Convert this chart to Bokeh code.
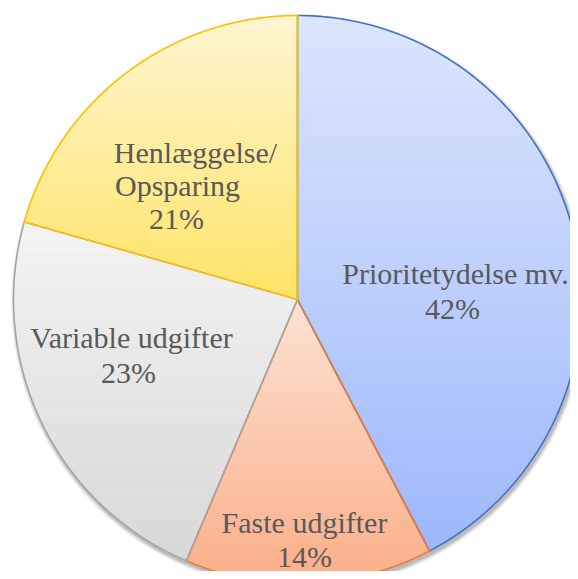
import numpy as np
from bokeh.plotting import figure
from bokeh.models import Range1d
from bokeh.core.properties import value
from bokeh.embed import file_html
from bokeh.resources import INLINE

# ---- data ----
categories = ["Prioritetydelse mv.", "Faste udgifter", "Variable udgifter", "Henlæggelse/Opsparing"]
shares = [42.3, 14.1, 23.0, 20.6]
pct_labels = ["42%", "14%", "23%", "21%"]

# ---- styles ----
top_colors = ["#dde6fd", "#fde2d4", "#f4f4f4", "#fff6d2"]
bottom_colors = ["#9db8fb", "#fbae88", "#d8d8d8", "#ffe466"]
edge_colors = ["#4472c4", "#ed7d31", "#a5a5a5", "#ffc000"]
text_color = "#595959"
font = "Liberation Serif"
font_size = "30px"

# ---- layout (pixel coordinates of the picture, y downwards) ----
CX, CY, R = 297.0, 299.0, 284.0
label_lines = [
    [(categories[0], 455, 273), (pct_labels[0], 452, 308)],
    [(categories[1], 304, 522), (pct_labels[1], 304, 556)],
    [(categories[2], 131, 337), (pct_labels[2], 128, 372)],
    [("Henlæggelse/", 195, 152), ("Opsparing", 177, 185), (pct_labels[3], 176, 218)],
]

W, H = 570, 571
p = figure(width=W, height=H, output_backend="svg", toolbar_location=None,
           x_range=Range1d(0, W), y_range=Range1d(H, 0),
           x_axis_type=None, y_axis_type=None, min_border=0,
           background_fill_color="white", border_fill_color="white")
p.outline_line_color = None
p.grid.visible = False


def hex2rgb(h):
    h = h.lstrip("#")
    return np.array([int(h[i:i + 2], 16) for i in (0, 2, 4)], dtype=float)


def rgb2hex(c):
    c = np.clip(np.round(c), 0, 255).astype(int)
    return "#%02x%02x%02x" % tuple(c)


def clip_half(poly, y0, keep_greater):
    out = []
    n = len(poly)
    for i in range(n):
        a = poly[i]
        b = poly[(i + 1) % n]
        ina = (a[1] >= y0) if keep_greater else (a[1] <= y0)
        inb = (b[1] >= y0) if keep_greater else (b[1] <= y0)
        if ina:
            out.append(a)
        if ina != inb:
            t = (y0 - a[1]) / (b[1] - a[1])
            out.append((a[0] + t * (b[0] - a[0]), y0))
    return out


# soft shadow
for k, alpha in [(4, 0.05), (3, 0.06), (2, 0.08), (1, 0.10)]:
    p.circle(x=[CX + 1.5], y=[CY + 3], radius=R + k, fill_color="#000000",
             fill_alpha=alpha, line_color=None)

fr = np.array(shares) / sum(shares)
starts = np.concatenate([[0], np.cumsum(fr)[:-1]]) * 2 * np.pi
ends = np.cumsum(fr) * 2 * np.pi

outlines = []
for i in range(len(shares)):
    th = np.linspace(starts[i], ends[i], 200)
    xs = CX + R * np.sin(th)
    ys = CY - R * np.cos(th)
    poly = [(CX, CY)] + list(zip(xs, ys))
    y_min = min(pt[1] for pt in poly)
    y_max = max(pt[1] for pt in poly)
    c0, c1 = hex2rgb(top_colors[i]), hex2rgb(bottom_colors[i])
    nb = 70
    edges = np.linspace(y_min, y_max, nb + 1)
    bx, by, bc = [], [], []
    for j in range(nb):
        band = clip_half(poly, edges[j], True)
        if len(band) < 3:
            continue
        band = clip_half(band, edges[j + 1], False)
        if len(band) < 3:
            continue
        t = (j + 0.5) / nb
        col = rgb2hex(c0 + (c1 - c0) * t)
        bx.append([q[0] for q in band])
        by.append([q[1] for q in band])
        bc.append(col)
    p.patches(xs=bx, ys=by, fill_color=bc, line_color=bc, line_width=0.8)
    outlines.append(([q[0] for q in poly], [q[1] for q in poly]))

for i, (ox, oy) in enumerate(outlines):
    p.patch(x=ox, y=oy, fill_color=None, line_color=edge_colors[i],
            line_width=1.6, line_join="miter")

for lines in label_lines:
    p.text(x=[l[1] for l in lines], y=[l[2] for l in lines], text=[l[0] for l in lines],
           text_font=value(font), text_font_size=font_size, text_color=text_color,
           text_align="center", text_baseline="alphabetic")

open("out.html", "w").write(file_html(p, INLINE))
